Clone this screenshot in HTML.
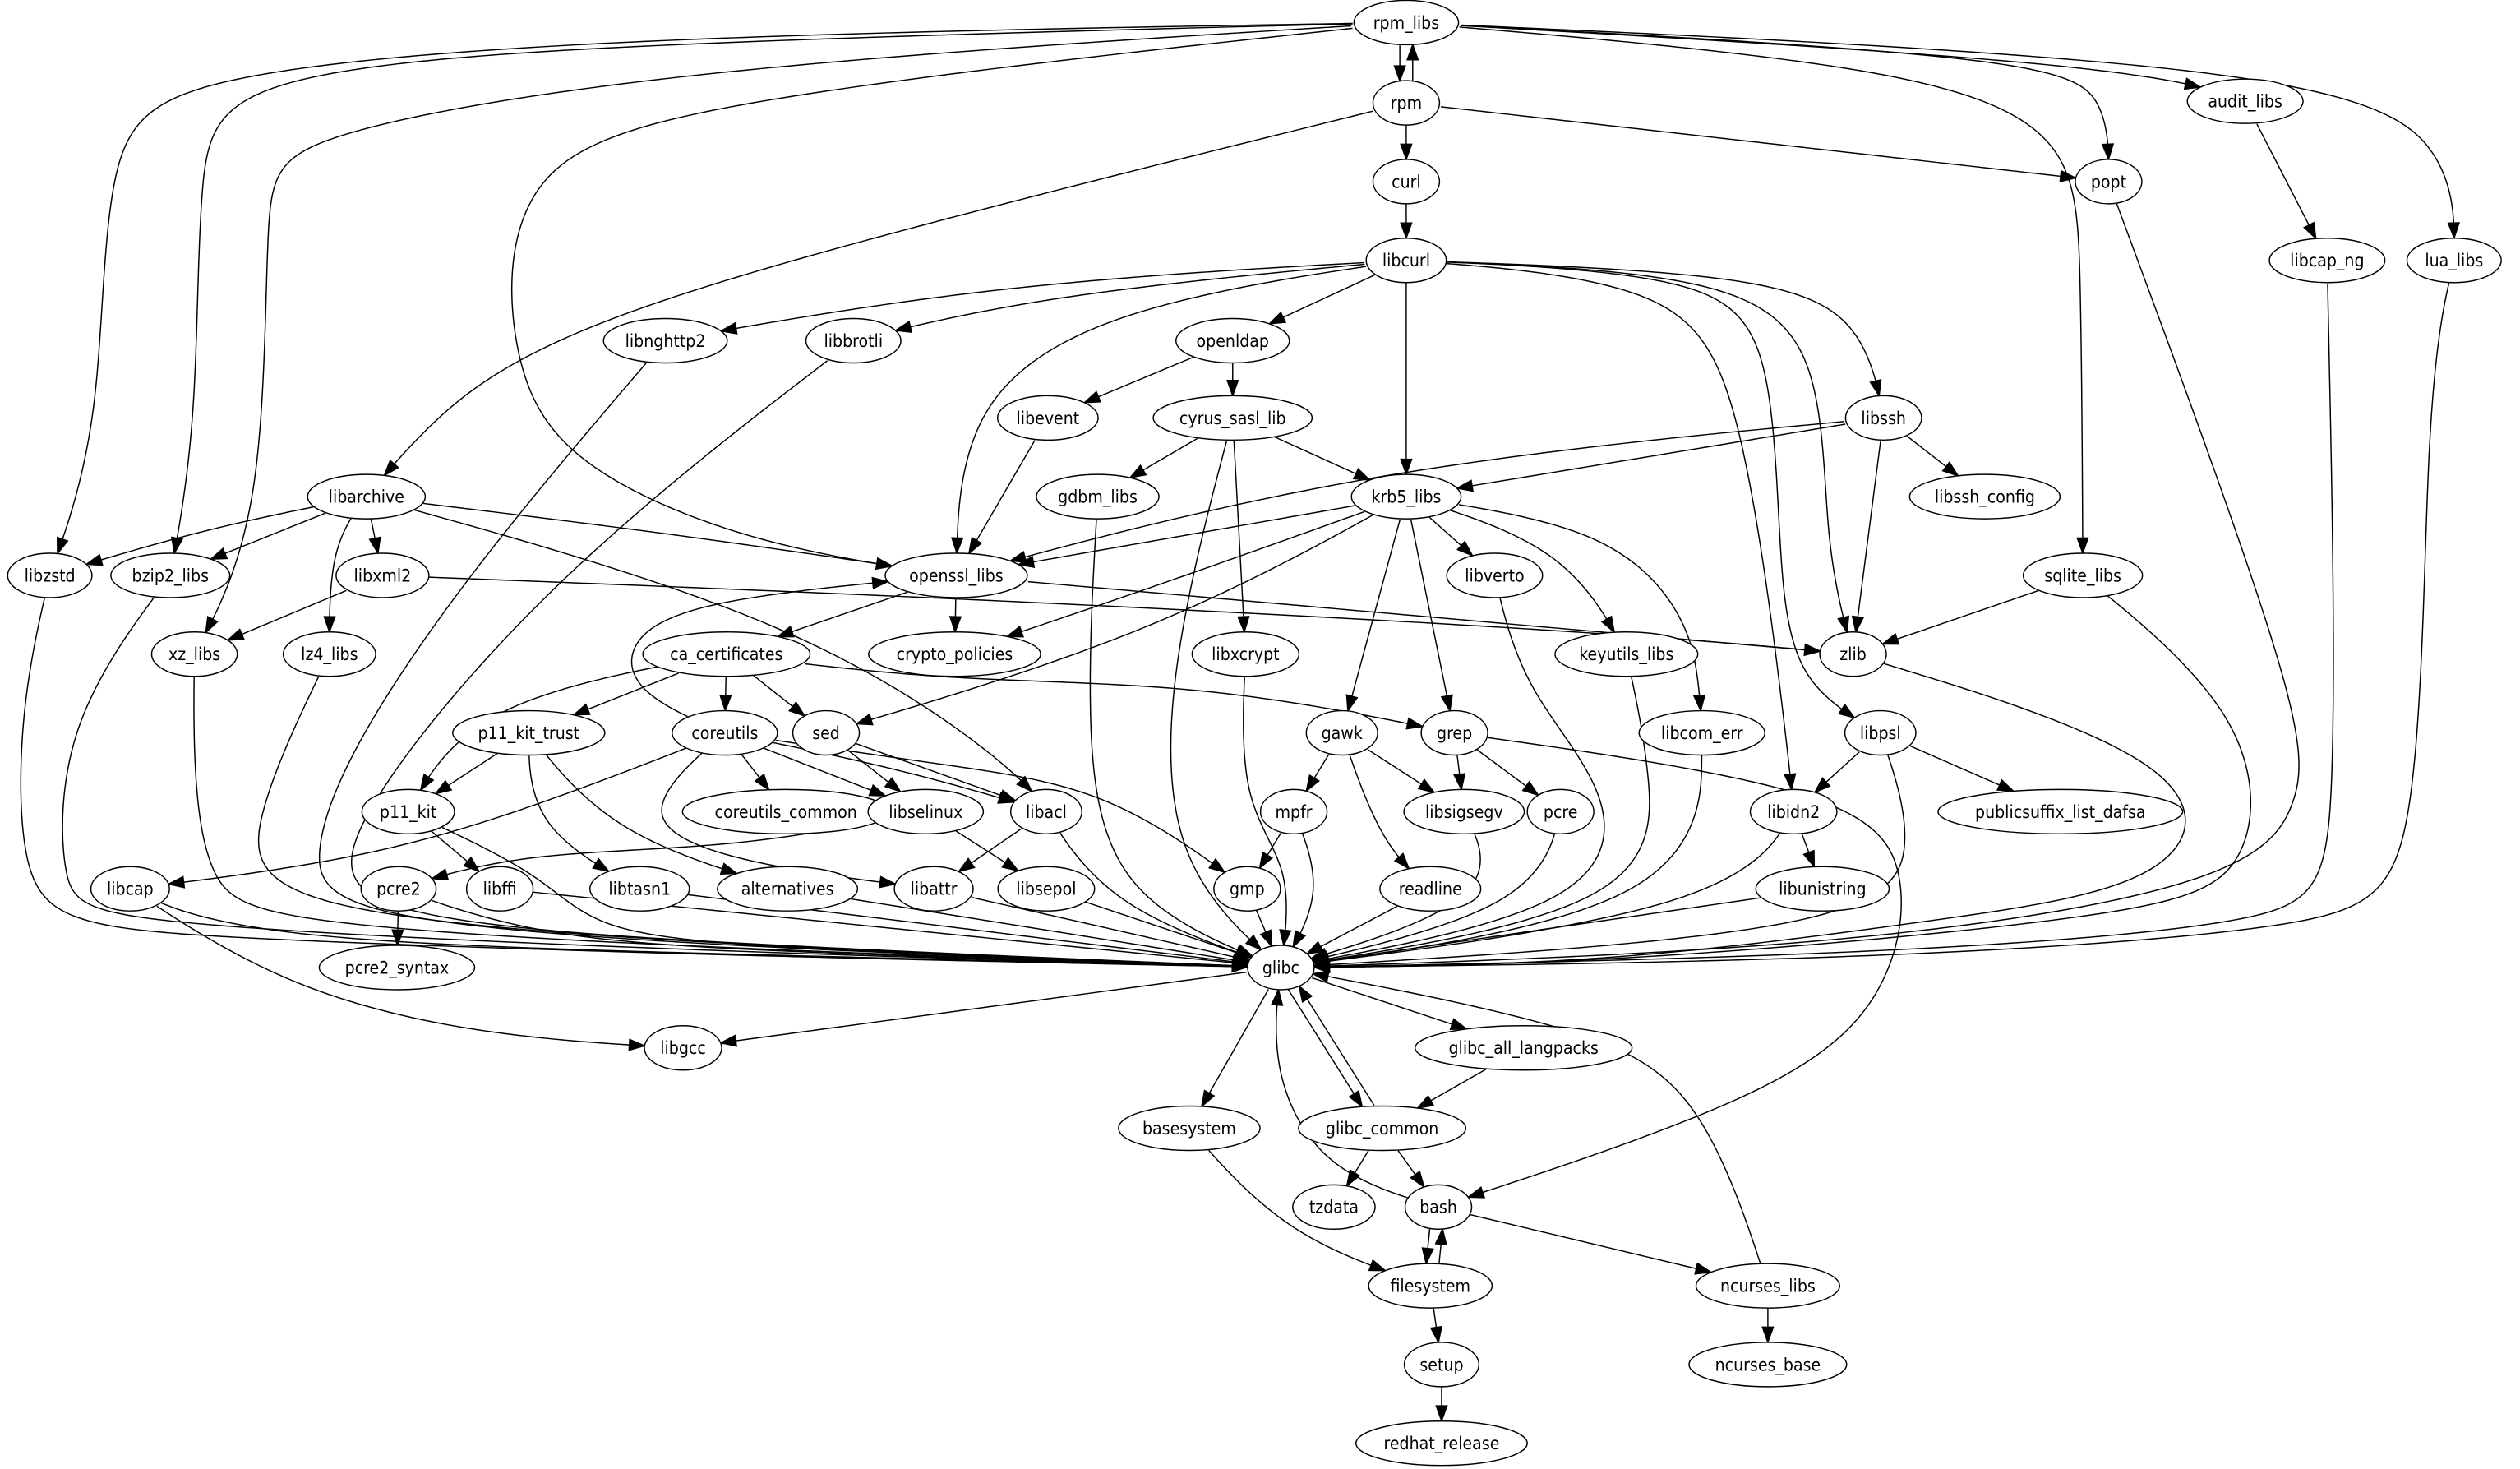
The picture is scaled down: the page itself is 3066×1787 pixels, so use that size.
<!DOCTYPE html>
<html><head><meta charset="utf-8"><style>html,body{margin:0;padding:0;background:#fff}svg{display:block}</style></head>
<body>
<svg id="g" xmlns="http://www.w3.org/2000/svg" width="3066" height="1787" viewBox="0 0 1568 914" preserveAspectRatio="none">
<g id="edges" fill="none" stroke="#000" stroke-width="0.75"></g>
<g id="arrows" fill="#000" stroke="#000" stroke-width="0.75"></g>
<g id="nodes" font-family="'DejaVu Sans Condensed','DejaVu Sans','Liberation Sans',sans-serif" font-size="10.8"></g>
</svg>
<script>
const N={rpm_libs:[875,14],rpm:[875,64],curl:[875,113],libcurl:[875,162],audit_libs:[1397,63],popt:[1312,113],libcap_ng:[1448,162],lua_libs:[1527,162],
libnghttp2:[414,212],libbrotli:[531,212],openldap:[767,212],libevent:[652,260],cyrus_sasl_lib:[767,260],libssh:[1172,260],
libarchive:[228,309],gdbm_libs:[683,309],krb5_libs:[875,309],libssh_config:[1235,309],sqlite_libs:[1296,358],
libzstd:[31,358],bzip2_libs:[106,358],libxml2:[238,358],openssl_libs:[595,358],libverto:[930,358],
xz_libs:[121,407],lz4_libs:[205,407],ca_certificates:[452,407],crypto_policies:[594,407],libxcrypt:[775,407],keyutils_libs:[1012,407],zlib:[1153,407],
p11_kit_trust:[329,456],coreutils:[451,456],sed:[514,456],gawk:[835,456],grep:[905,456],libcom_err:[1059,456],libpsl:[1170,456],
p11_kit:[254,505],coreutils_common:[489,505],libselinux:[576,505],libacl:[651,505],mpfr:[805,505],libsigsegv:[911,505],pcre:[971,505],libidn2:[1116,505],publicsuffix_list_dafsa:[1282,505],
libcap:[81,553],pcre2:[248,553],libffi:[311,553],libtasn1:[398,553],alternatives:[490,553],libattr:[581,553],libsepol:[651,553],gmp:[776,553],readline:[890,553],libunistring:[1134,553],
pcre2_syntax:[247,602],glibc:[797,602],libgcc:[425,652],glibc_all_langpacks:[948,652],basesystem:[740,702],glibc_common:[860,702],
tzdata:[830,751],bash:[895,751],filesystem:[890,800],ncurses_libs:[1100,800],setup:[897,849],ncurses_base:[1100,849],redhat_release:[897,898]};
const E=[
['rpm_libs','rpm',[],-4],['rpm','rpm_libs',[],4],
['rpm_libs','libzstd',[[400,22],[110,45],[64,90],[64,264]]],
['rpm_libs','bzip2_libs',[[400,26],[140,45],[123,103],[123,264]]],
['rpm_libs','xz_libs',[[420,42],[176,85],[165,120],[165,323]]],
['rpm_libs','openssl_libs',[[430,62],[316,105],[316,225],[352,290],[470,340]]],
['rpm_libs','sqlite_libs',[[1180,40],[1290,80],[1295,160]]],['rpm_libs','lua_libs',[[1440,40],[1527,90]]],
['rpm_libs','popt',[[1270,35],[1312,60]]],['rpm_libs','audit_libs',[[1330,40]]],
['rpm','curl'],['rpm','libarchive',[[460,167],[320,220],[265,265]]],['rpm','popt'],['curl','libcurl'],
['libcurl','libnghttp2',[[620,176]]],['libcurl','libbrotli',[[650,183]]],['libcurl','openldap'],['libcurl','openssl_libs',[[690,190],[598,250]]],['libcurl','krb5_libs'],
['libcurl','libidn2',[[1040,175],[1084,240],[1113,470]]],['libcurl','libpsl',[[1060,170],[1106,212],[1106,385],[1128,432]]],
['libcurl','zlib',[[1080,170],[1135,220],[1135,340]]],['libcurl','libssh',[[1100,170],[1160,200]]],
['openldap','libevent'],['openldap','cyrus_sasl_lib'],['libevent','openssl_libs'],
['cyrus_sasl_lib','gdbm_libs'],['cyrus_sasl_lib','krb5_libs'],['cyrus_sasl_lib','libxcrypt'],['cyrus_sasl_lib','glibc',[[725,420],[728,540]]],
['libssh','openssl_libs',[[849,290]]],['libssh','krb5_libs'],['libssh','libssh_config'],['libssh','zlib'],
['libarchive','libzstd',[[130,328]]],['libarchive','bzip2_libs'],['libarchive','libxml2'],['libarchive','lz4_libs',[[205,340]]],['libarchive','openssl_libs',[[420,332]]],['libarchive','libacl',[[500,385],[635,480]]],
['krb5_libs','openssl_libs'],['krb5_libs','crypto_policies',[[719,365]]],['krb5_libs','libverto'],['krb5_libs','keyutils_libs',[[975,340]]],['krb5_libs','libcom_err',[[1000,328],[1048,380],[1057,420]]],
['krb5_libs','gawk'],['krb5_libs','grep'],['krb5_libs','sed',[[719,395]]],
['openssl_libs','ca_certificates'],['openssl_libs','crypto_policies'],['openssl_libs','zlib'],
['libxml2','xz_libs'],['libxml2','zlib',[[600,372],[1000,393]]],['sqlite_libs','zlib'],
['sqlite_libs','glibc',[[1404,447],[1404,545],[1334,570],[1000,600]]],['zlib','glibc',[[1375,475],[1360,550],[1210,572],[1000,600]]],
['ca_certificates','p11_kit_trust'],['ca_certificates','coreutils'],['ca_certificates','sed'],['ca_certificates','grep',[[588,424],[750,425]]],['ca_certificates','p11_kit',[[294,436]]],
['coreutils','openssl_libs',[[395,432],[388,400],[430,373]]],['coreutils','coreutils_common'],['coreutils','libselinux'],['coreutils','libacl',[[560,478]]],
['coreutils','gmp',[[588,476],[690,490]]],['coreutils','libattr',[[390,510],[460,538]]],['coreutils','libcap',[[352,495],[235,534]]],
['p11_kit_trust','libtasn1',[[330,515]]],['p11_kit_trust','alternatives',[[380,520]]],['p11_kit_trust','p11_kit'],
['sed','libselinux'],['sed','libacl'],['libselinux','pcre2',[[460,528],[323,530]]],['libselinux','libsepol'],['libacl','libattr'],['libacl','glibc',[[690,565]]],
['p11_kit','libffi'],['p11_kit','glibc',[[338,544],[367,578],[460,590]]],['pcre2','pcre2_syntax'],['pcre2','glibc',[[330,582],[460,592]]],
['gawk','mpfr'],['gawk','libsigsegv'],['gawk','readline',[[859,525]]],['grep','libsigsegv'],['grep','pcre'],
['grep','bash',[[1152,491],[1190,540],[1177,620],[1110,680]]],
['mpfr','gmp'],['mpfr','glibc',[[825,555]]],['libpsl','libidn2'],['libpsl','publicsuffix_list_dafsa'],['libpsl','glibc',[[1195,530],[1160,580]]],
['libidn2','libunistring'],['libidn2','glibc',[[1078,565]]],
['libzstd','glibc',[[12,440],[12,545],[40,575],[130,584],[460,595]]],['bzip2_libs','glibc',[[38,450],[37,555],[60,575],[460,593]]],
['xz_libs','glibc',[[120,480],[129,550],[165,575],[460,591]]],['lz4_libs','glibc',[[153,515],[164,568],[460,589]]],
['libnghttp2','glibc',[[300,345],[220,460],[191,535],[210,572],[460,590]]],['libbrotli','glibc',[[341,358],[205,524],[220,572],[460,588]]],
['gdbm_libs','glibc',[[673,490],[705,565]]],['libxcrypt','glibc',[[771,500],[805,540]]],
['libverto','glibc',[[947,429],[1006,494],[996,565]]],['keyutils_libs','glibc',[[1028,481],[1028,565]]],['libcom_err','glibc',[[1058,565]]],['pcre','glibc',[[955,565]]],
['libsigsegv','glibc',[[937,560]]],['readline','glibc'],['gmp','glibc'],['libsepol','glibc'],['libattr','glibc'],['alternatives','glibc'],
['libtasn1','glibc'],['libffi','glibc'],['libcap','glibc',[[150,585],[460,594]]],['libunistring','glibc'],
['popt','glibc',[[1433,440],[1433,500],[1396,550],[1150,590]]],
['libcap_ng','glibc',[[1456,540],[1433,575],[1150,595]]],['lua_libs','glibc',[[1509,241],[1507,545],[1458,578],[1150,598]]],['audit_libs','libcap_ng'],
['libcap','libgcc',[[176,615],[300,645]]],['glibc','libgcc'],['glibc','glibc_all_langpacks'],['glibc','basesystem'],['glibc','glibc_common',[],-4],
['glibc_common','glibc',[],4],['glibc_all_langpacks','glibc_common'],['glibc_common','bash'],['glibc_common','tzdata'],
['bash','glibc',[[822,729],[790,665]]],['bash','filesystem',[],-4],['filesystem','bash',[],4],['bash','ncurses_libs'],['basesystem','filesystem',[[800,770]]],
['ncurses_libs','glibc',[[1060,680],[991,639]]],['ncurses_libs','ncurses_base'],['filesystem','setup'],['setup','redhat_release']];
const NS='http://www.w3.org/2000/svg';
const ng=document.getElementById('nodes'),eg=document.getElementById('edges'),ag=document.getElementById('arrows');
const R={};const RY=13.8;
for(const k in N){const [x,y]=N[k];
 const e=document.createElementNS(NS,'ellipse');e.setAttribute('cx',x);e.setAttribute('cy',y);e.setAttribute('fill','#fff');e.setAttribute('stroke','#000');e.setAttribute('stroke-width','0.75');
 const t=document.createElementNS(NS,'text');t.setAttribute('x',x);t.setAttribute('y',y+3.8);t.setAttribute('text-anchor','middle');t.textContent=k;
 ng.appendChild(e);ng.appendChild(t);
 let tw=t.getComputedTextLength();if(!tw)tw=k.length*5.6;
 const rx=Math.max(20.7,tw/2*1.34+5);e.setAttribute('rx',rx);e.setAttribute('ry',RY);R[k]=rx;}
function inside(k,p){const [x,y]=N[k];const a=(p[0]-x)/R[k],b=(p[1]-y)/RY;return a*a+b*b<1;}
function bs(c0,c1,c2,c3,t){const u=1-t,t2=t*t,t3=t2*t;const b0=u*u*u,b1=3*t3-6*t2+4,b2=-3*t3+3*t2+3*t+1,b3=t3;return [0,1].map(i=>(b0*c0[i]+b1*c1[i]+b2*c2[i]+b3*c3[i])/6);}
for(const ed of E){const [s,d,w=[],off=0]=ed;
 const P=[[N[s][0]+off,N[s][1]],...w,[N[d][0]+off,N[d][1]]];
 const C=[P[0],P[0],...P,P[P.length-1],P[P.length-1]];let S=[];
 for(let i=0;i<C.length-3;i++){for(let j=0;j<60;j++)S.push(bs(C[i],C[i+1],C[i+2],C[i+3],j/60));}
 S.push(P[P.length-1]);
 let a=0;while(a<S.length-1&&inside(s,S[a]))a++;
 let b=S.length-1;while(b>a&&inside(d,S[b]))b--;
 let p=S[b],q=S[Math.min(b+1,S.length-1)];let lo=0,hi=1;
 for(let i=0;i<20;i++){const m=(lo+hi)/2;const r=[p[0]+(q[0]-p[0])*m,p[1]+(q[1]-p[1])*m];if(inside(d,r))hi=m;else lo=m;}
 const tip=[p[0]+(q[0]-p[0])*lo,p[1]+(q[1]-p[1])*lo];
 const L=9.5;let k=b;while(k>a&&Math.hypot(S[k][0]-tip[0],S[k][1]-tip[1])<L)k--;
 let dx=tip[0]-S[k][0],dy=tip[1]-S[k][1];const dl=Math.hypot(dx,dy)||1;dx/=dl;dy/=dl;
 const base=[tip[0]-dx*L,tip[1]-dy*L];
 const pts=S.slice(a,k+1);pts.push(base);
 const pl=document.createElementNS(NS,'polyline');pl.setAttribute('points',pts.map(v=>v[0].toFixed(2)+','+v[1].toFixed(2)).join(' '));eg.appendChild(pl);
 const hw=3.4;const ar=document.createElementNS(NS,'polygon');
 ar.setAttribute('points',[tip,[base[0]-dy*hw,base[1]+dx*hw],[base[0]+dy*hw,base[1]-dx*hw]].map(v=>v[0].toFixed(2)+','+v[1].toFixed(2)).join(' '));ag.appendChild(ar);}
</script>
</body></html>
